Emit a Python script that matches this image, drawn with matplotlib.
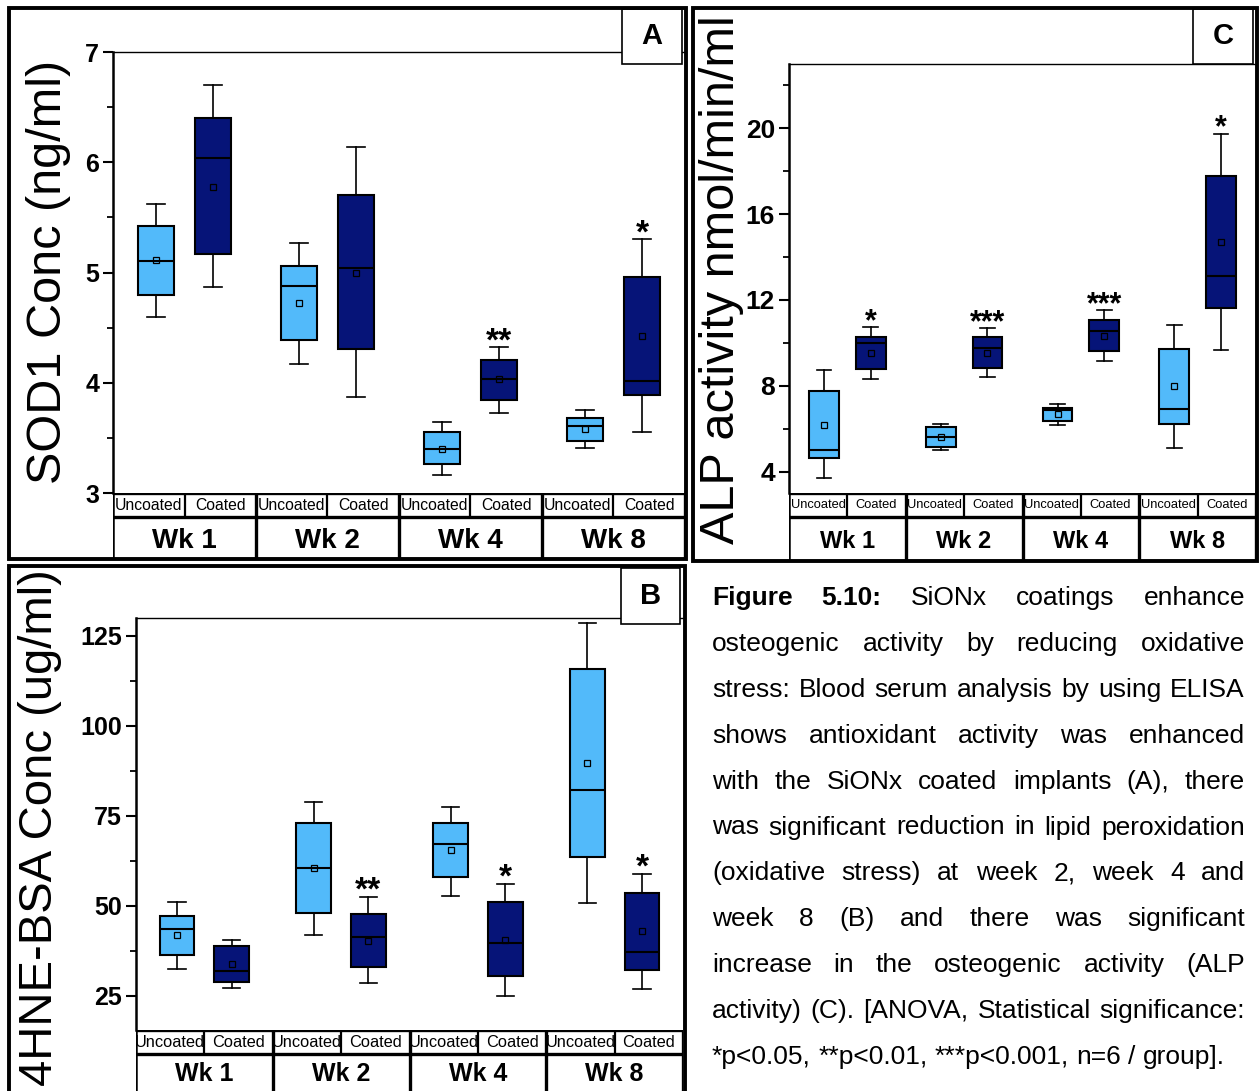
import matplotlib
matplotlib.use("Agg")
import matplotlib.pyplot as plt
from matplotlib.patches import Rectangle
from matplotlib.lines import Line2D

plt.rcParams["font.family"] = ["Liberation Sans", "DejaVu Sans"]

# ---------------------------------------------------------------- data
weeks = ["Wk 1", "Wk 2", "Wk 4", "Wk 8"]
groups = ["Uncoated", "Coated"]

# order of every list: Wk1 Uncoated, Wk1 Coated, Wk2 Uncoated, ... Wk8 Coated
sod1_whislo = [4.60, 4.87, 4.17, 3.87, 3.16, 3.73, 3.41, 3.55]
sod1_q1 = [4.80, 5.17, 4.39, 4.31, 3.26, 3.84, 3.47, 3.89]
sod1_med = [5.10, 6.04, 4.88, 5.04, 3.40, 4.03, 3.61, 4.02]
sod1_q3 = [5.42, 6.40, 5.06, 5.70, 3.55, 4.21, 3.68, 4.96]
sod1_whishi = [5.62, 6.70, 5.27, 6.14, 3.64, 4.32, 3.75, 5.30]
sod1_mean = [5.11, 5.78, 4.72, 5.00, 3.40, 4.03, 3.58, 4.42]
sod1_sig = ["", "", "", "", "", "**", "", "*"]
sod1_ticks = [3, 4, 5, 6, 7]
sod1_minor = [3.5, 4.5, 5.5, 6.5]

hne_whislo = [32.4, 27.1, 41.9, 28.5, 52.8, 25.0, 50.7, 26.8]
hne_q1 = [36.3, 28.8, 48.1, 32.9, 57.9, 30.6, 63.5, 32.1]
hne_med = [43.6, 31.8, 60.5, 41.4, 67.2, 39.6, 82.1, 37.2]
hne_q3 = [47.3, 38.9, 72.9, 47.7, 72.9, 51.0, 115.7, 53.7]
hne_whishi = [51.0, 40.5, 79.0, 52.4, 77.6, 56.1, 128.6, 58.8]
hne_mean = [41.8, 33.9, 60.5, 40.2, 65.4, 40.6, 89.7, 42.9]
hne_sig = ["", "", "", "**", "", "*", "", "*"]
hne_ticks = [25, 50, 75, 100, 125]
hne_minor = [37.5, 62.5, 87.5, 112.5]

alp_whislo = [3.68, 8.33, 5.00, 8.40, 6.16, 9.17, 5.10, 9.67]
alp_q1 = [4.65, 8.80, 5.15, 8.85, 6.36, 9.62, 6.21, 11.62]
alp_med = [4.99, 9.97, 5.61, 9.77, 6.85, 10.53, 6.90, 13.12]
alp_q3 = [7.75, 10.28, 6.08, 10.26, 6.96, 11.08, 9.71, 17.79]
alp_whishi = [8.72, 10.73, 6.24, 10.69, 7.16, 11.53, 10.81, 19.75]
alp_mean = [6.19, 9.54, 5.62, 9.54, 6.66, 10.34, 7.97, 14.71]
alp_sig = ["", "*", "", "***", "", "***", "", "*"]
alp_ticks = [4, 8, 12, 16, 20]
alp_minor = [6, 10, 14, 18, 22]

caption_lines = [
    "Figure 5.10: SiONx coatings enhance",
    "osteogenic activity by reducing oxidative",
    "stress: Blood serum analysis by using ELISA",
    "shows antioxidant activity was enhanced",
    "with the SiONx coated implants (A), there",
    "was significant reduction in lipid peroxidation",
    "(oxidative stress) at week 2, week 4 and",
    "week 8 (B) and there was significant",
    "increase in the osteogenic activity (ALP",
    "activity) (C). [ANOVA, Statistical significance:",
    "*p<0.05, **p<0.01, ***p<0.001, n=6 / group].",
]
caption_bold = ["Figure", "5.10:"]

LIGHT = "#52BAFA"
DARK = "#061478"

# ---------------------------------------------------------------- figure
W, H = 1259, 1091
fig = plt.figure(figsize=(W / 100, H / 100), dpi=100)


def box(x0, y0, x1, y1):
    """pixel box (top-left origin) -> figure fraction rect"""
    return [x0 / W, 1 - y1 / H, (x1 - x0) / W, (y1 - y0) / H]


def fx(x):
    return x / W


def fy(y):
    return 1 - y / H


def panel(frame, plot, rows, letter_box, letter, ylim, ticks, minor, ylabel,
          ylabel_xy, ylabel_size, stats, tick_size, cat_size, wk_size, star_size,
          wk_y):
    whislo, q1, med, q3, whishi, mean, sig = stats
    left, top, right, bottom = plot

    ax = fig.add_axes(box(left, top, right, bottom))
    ax.set_xlim(0, 8)
    ax.set_ylim(*ylim)
    ax.set_facecolor("none")

    positions = [2 * (i // 2) + (0.6 if i % 2 == 0 else 1.4) for i in range(8)]
    bstats = [dict(whislo=whislo[i], q1=q1[i], med=med[i], q3=q3[i],
                   whishi=whishi[i], mean=mean[i], fliers=[]) for i in range(8)]
    bp = ax.bxp(bstats, positions=positions, widths=0.51, capwidths=0.25,
                patch_artist=True, showmeans=True, manage_ticks=False,
                boxprops=dict(edgecolor="black", linewidth=1.5),
                medianprops=dict(color="black", linewidth=1.5),
                whiskerprops=dict(color="black", linewidth=1.2),
                capprops=dict(color="black", linewidth=1.2),
                meanprops=dict(marker="s", markerfacecolor="none",
                               markeredgecolor="black", markersize=4,
                               markeredgewidth=0.9))
    for i, patch in enumerate(bp["boxes"]):
        patch.set_facecolor(LIGHT if i % 2 == 0 else DARK)

    for i, s in enumerate(sig):
        if s:
            ax.annotate(s, (positions[i], whishi[i]), xytext=(0, -2),
                        textcoords="offset points", ha="center", va="baseline",
                        fontsize=star_size, fontweight="bold")

    ax.set_xticks([])
    ax.set_yticks(ticks)
    ax.set_yticklabels([str(t) for t in ticks])
    ax.set_yticks(minor, minor=True)
    ax.tick_params(axis="y", which="major", direction="out", length=7, width=1.5,
                   labelsize=tick_size, pad=3)
    ax.tick_params(axis="y", which="minor", direction="out", length=4, width=1.3)
    for t in ax.get_yticklabels():
        t.set_fontweight("bold")
    ax.spines["right"].set_visible(False)
    ax.spines["bottom"].set_visible(False)
    ax.spines["left"].set_linewidth(1.8)
    ax.spines["top"].set_linewidth(1.0)

    # category table under the plot
    split, tab_bottom = rows
    tab = fig.add_axes(box(left, bottom, right, tab_bottom))
    tab.set_xlim(0, 8)
    tab.set_ylim(tab_bottom, bottom)
    tab.axis("off")
    tab.add_line(Line2D([0, 8], [bottom, bottom], color="black", lw=2.4))
    tab.add_line(Line2D([0, 8], [split, split], color="black", lw=2.4))
    for k in range(9):
        if k % 2 == 0:
            tab.add_line(Line2D([k, k], [bottom, tab_bottom], color="black",
                                lw=2.4 if k > 0 else 1.8))
        else:
            tab.add_line(Line2D([k, k], [bottom, split], color="black", lw=1.6))
    for k in range(8):
        cell = Rectangle((k, split), 1, bottom - split, transform=tab.transData)
        t = tab.text(k + 0.5, (bottom + split) / 2 + 0.5, groups[k % 2],
                     ha="center", va="center", fontsize=cat_size)
        t.set_clip_path(cell)
    for k, wk in enumerate(weeks):
        tab.text(2 * k + 1, wk_y, wk, ha="center",
                 va="center", fontsize=wk_size, fontweight="bold")

    # y label
    fig.text(fx(ylabel_xy[0]), fy(ylabel_xy[1]), ylabel, rotation=90,
             ha="center", va="center", fontsize=ylabel_size)

    # panel letter box
    lx0, ly0, lx1, ly1 = letter_box
    fig.add_artist(Rectangle((fx(lx0), fy(ly1)), (lx1 - lx0) / W, (ly1 - ly0) / H,
                             transform=fig.transFigure, facecolor="white",
                             edgecolor="black", lw=1.2, zorder=5))
    fig.text(fx((lx0 + lx1) / 2), fy((ly0 + ly1) / 2), letter, ha="center",
             va="center", fontsize=21, fontweight="bold", zorder=6)

    # outer frame
    x0, y0, x1, y1 = frame
    fig.add_artist(Rectangle((fx(x0), fy(y1)), (x1 - x0) / W, (y1 - y0) / H,
                             transform=fig.transFigure, fill=False,
                             edgecolor="black", lw=2.8, zorder=7))


# A: SOD1
panel(frame=(9, 8, 686, 559), plot=(113, 52, 685, 493), rows=(517, 559),
      letter_box=(622, 9, 682, 64), letter="A", ylim=(3, 7),
      ticks=sod1_ticks, minor=sod1_minor, ylabel="SOD1 Conc (ng/ml)",
      ylabel_xy=(49, 272), ylabel_size=35,
      stats=(sod1_whislo, sod1_q1, sod1_med, sod1_q3, sod1_whishi, sod1_mean, sod1_sig),
      tick_size=18, cat_size=11.3, wk_size=20, star_size=24, wk_y=541)

# C: ALP
panel(frame=(693, 8, 1257, 561), plot=(789, 64, 1256, 493), rows=(517, 560),
      letter_box=(1193, 9, 1253, 64), letter="C", ylim=(3, 23),
      ticks=alp_ticks, minor=alp_minor, ylabel="ALP activity nmol/min/ml",
      ylabel_xy=(722, 280), ylabel_size=35,
      stats=(alp_whislo, alp_q1, alp_med, alp_q3, alp_whishi, alp_mean, alp_sig),
      tick_size=19, cat_size=9.3, wk_size=17, star_size=22, wk_y=541)

# B: 4HNE-BSA
panel(frame=(9, 566, 685, 1100), plot=(136, 618, 683, 1030), rows=(1054, 1100),
      letter_box=(621, 568, 680, 624), letter="B", ylim=(15.5, 130),
      ticks=hne_ticks, minor=hne_minor, ylabel="4HNE-BSA Conc (ug/ml)",
      ylabel_xy=(40, 828), ylabel_size=34,
      stats=(hne_whislo, hne_q1, hne_med, hne_q3, hne_whishi, hne_mean, hne_sig),
      tick_size=18, cat_size=11.8, wk_size=18, star_size=24, wk_y=1074)

# ---------------------------------------------------------------- caption
renderer = fig.canvas.get_renderer()
cap_size = 19
x_left, x_right = 712, 1245
base0, step = 605, 45.9
space_px = 0.278 * cap_size * 100 / 72
for i, line in enumerate(caption_lines):
    words = line.split(" ")
    yb = fy(base0 + i * step)
    items = []
    for w in words:
        weight = "bold" if (i == 0 and w in caption_bold) else "normal"
        t = fig.text(0, yb, w, fontsize=cap_size, fontweight=weight,
                     ha="left", va="baseline")
        items.append(t)
    widths = [t.get_window_extent(renderer).width for t in items]
    if i == len(caption_lines) - 1:
        gap = space_px
    else:
        gap = (x_right - x_left - sum(widths)) / (len(words) - 1)
    x = x_left
    for t, wd in zip(items, widths):
        t.set_x(fx(x))
        x += wd + gap

fig.savefig("out.png", dpi=100)
